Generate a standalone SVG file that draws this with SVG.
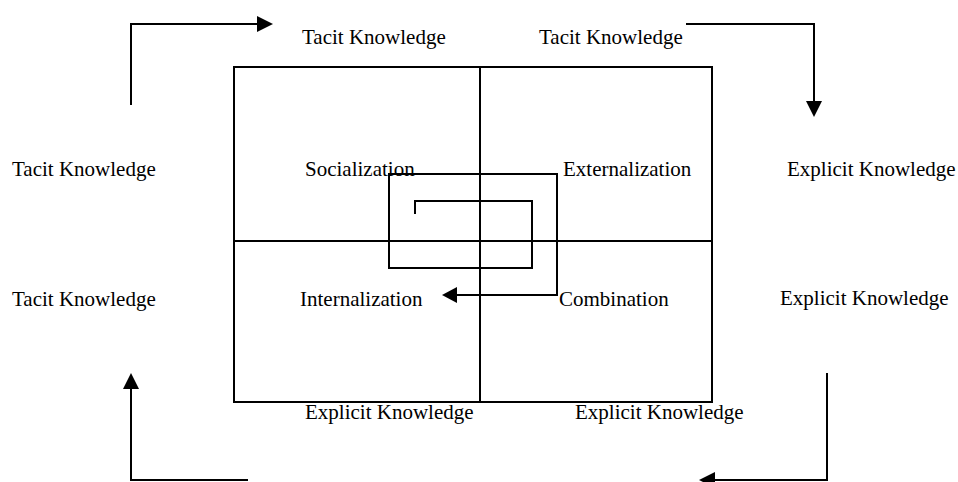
<svg xmlns="http://www.w3.org/2000/svg" width="958" height="482" viewBox="0 0 958 482">
<style>
.t{font-family:"Liberation Serif","Times New Roman",serif;font-size:21px;fill:#000}
.ln{fill:none;stroke:#000;stroke-width:2}
.ah{fill:#000}
</style>
<rect width="958" height="482" fill="#fff"/>
<g id="matrix">
<rect class="ln" x="234" y="67" width="478" height="335"/>
<line class="ln" x1="480" y1="67" x2="480" y2="402"/>
<line class="ln" x1="234" y1="241" x2="712" y2="241"/>
</g>
<g id="socialization"><text class="t" x="305" y="176">Socialization</text></g>
<g id="externalization"><text class="t" x="563" y="176">Externalization</text></g>
<g id="internalization"><text class="t" x="300" y="306">Internalization</text></g>
<g id="combination"><text class="t" x="559" y="306">Combination</text></g>
<g id="labels">
<text class="t" x="302" y="44">Tacit Knowledge</text>
<text class="t" x="539" y="44">Tacit Knowledge</text>
<text class="t" x="12" y="176">Tacit Knowledge</text>
<text class="t" x="12" y="306">Tacit Knowledge</text>
<text class="t" x="787" y="176">Explicit Knowledge</text>
<text class="t" x="780" y="305">Explicit Knowledge</text>
<text class="t" x="305" y="419">Explicit Knowledge</text>
<text class="t" x="575" y="419">Explicit Knowledge</text>
</g>
<g id="connectors">
<path class="ln" d="M131,105 V24 H258"/>
<polygon class="ah" points="273,24 257,16 257,32"/>
<path class="ln" d="M686,24 H814 V102"/>
<polygon class="ah" points="814,117 806,101 822,101"/>
<path class="ln" d="M827,373 V480 H714"/>
<polygon class="ah" points="699,480 715,472 715,488"/>
<path class="ln" d="M248,480 H131 V388"/>
<polygon class="ah" points="131,373 123,389 139,389"/>
<path class="ln" d="M415,214 V201 H532 V268 H389 V174 H557 V295 H456"/>
<polygon class="ah" points="442,295 457,287 457,303"/>
</g>
</svg>
